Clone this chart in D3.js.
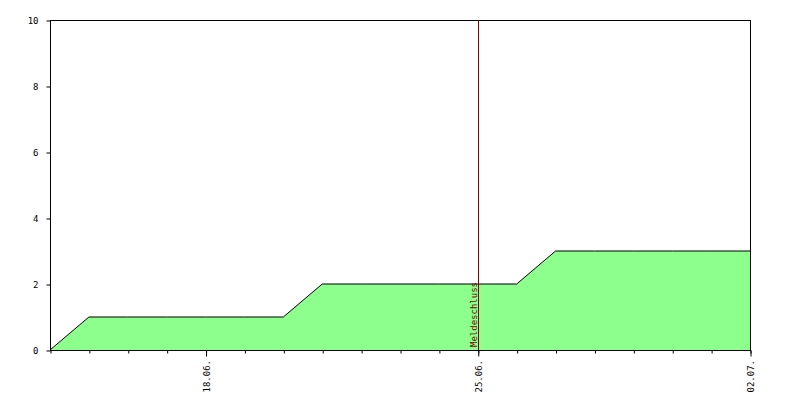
<!DOCTYPE html>
<html><head><meta charset="utf-8">
<script src="https://cdn.jsdelivr.net/npm/d3@7"></script>
<style>body{margin:0;background:#fff}svg{display:block}text{font-family:"DejaVu Sans Mono",monospace;font-size:9px}</style>
</head><body><svg id="c" width="800" height="400"></svg>
<script>
const dates = ["2024-06-14","2024-06-15","2024-06-16","2024-06-17","2024-06-18","2024-06-19","2024-06-20","2024-06-21","2024-06-22","2024-06-23","2024-06-24","2024-06-25","2024-06-26","2024-06-27","2024-06-28","2024-06-29","2024-06-30","2024-07-01","2024-07-02"];
const values = [0,1,1,1,1,1,1,2,2,2,2,2,2,3,3,3,3,3,3];
const yTicks = [0,2,4,6,8,10];
const xTickLabels = ["2024-06-18","2024-06-25","2024-07-02"];
const deadline = "2024-06-25";
const deadlineLabel = "Meldeschluss";

const p = d3.timeParse("%Y-%m-%d");
const svg = d3.select("#c");
const L=50,R=750,T=20,B=350;
const x = d3.scaleTime().domain([p(dates[0]), p(dates[dates.length-1])]).range([L,R]);
const y = d3.scaleLinear().domain([0,10]).range([B,T]);
const data = dates.map((d,i)=>({d:p(d),v:values[i]}));

svg.append("path").datum(data).attr("fill","#8cff8c")
  .attr("d",d3.area().x(d=>x(d.d)).y0(y(0)).y1(d=>y(d.v)));
svg.append("path").datum(data).attr("fill","none").attr("stroke","#000").attr("stroke-width",1)
  .attr("d",d3.line().x(d=>x(d.d)).y(d=>y(d.v)));

// frame
svg.append("rect").attr("x",L+0.5).attr("y",T+0.5).attr("width",R-L).attr("height",B-T)
  .attr("fill","none").attr("stroke","#000");

// y axis
const ya = svg.append("g").attr("transform",`translate(${L+0.5},0.5)`)
  .call(d3.axisLeft(y).tickValues(yTicks).tickSize(4).tickPadding(8).tickFormat(d3.format("d")));
ya.select(".domain").remove();
ya.selectAll("text").attr("font-size",9).attr("font-family","DejaVu Sans Mono");

// x axis minor ticks daily
const xa = svg.append("g").attr("transform",`translate(0.5,${B+0.5})`)
  .call(d3.axisBottom(x).tickValues(data.map(d=>d.d)).tickSize(3).tickFormat(""));
xa.select(".domain").remove();
const xm = svg.append("g").attr("transform",`translate(0.5,${B+0.5})`)
  .call(d3.axisBottom(x).tickValues(xTickLabels.map(p)).tickSize(6).tickFormat(""));
xm.select(".domain").remove();
const fmt = d3.timeFormat("%d.%m.");
xTickLabels.forEach(s=>{
  const xx = x(p(s));
  svg.append("text").attr("transform",`translate(${xx+4},${B+10}) rotate(-90)`)
    .attr("text-anchor","end").attr("font-size",9).text(fmt(p(s)));
});

// deadline
const dx = Math.round(x(p(deadline)))+0.5;
svg.append("line").attr("x1",dx).attr("x2",dx).attr("y1",T).attr("y2",B).attr("stroke","#800000");
svg.append("text").attr("transform",`translate(${dx-2},${B-3}) rotate(-90)`)
  .attr("fill","#800000").attr("font-size",11).text(deadlineLabel);
</script></body></html>
